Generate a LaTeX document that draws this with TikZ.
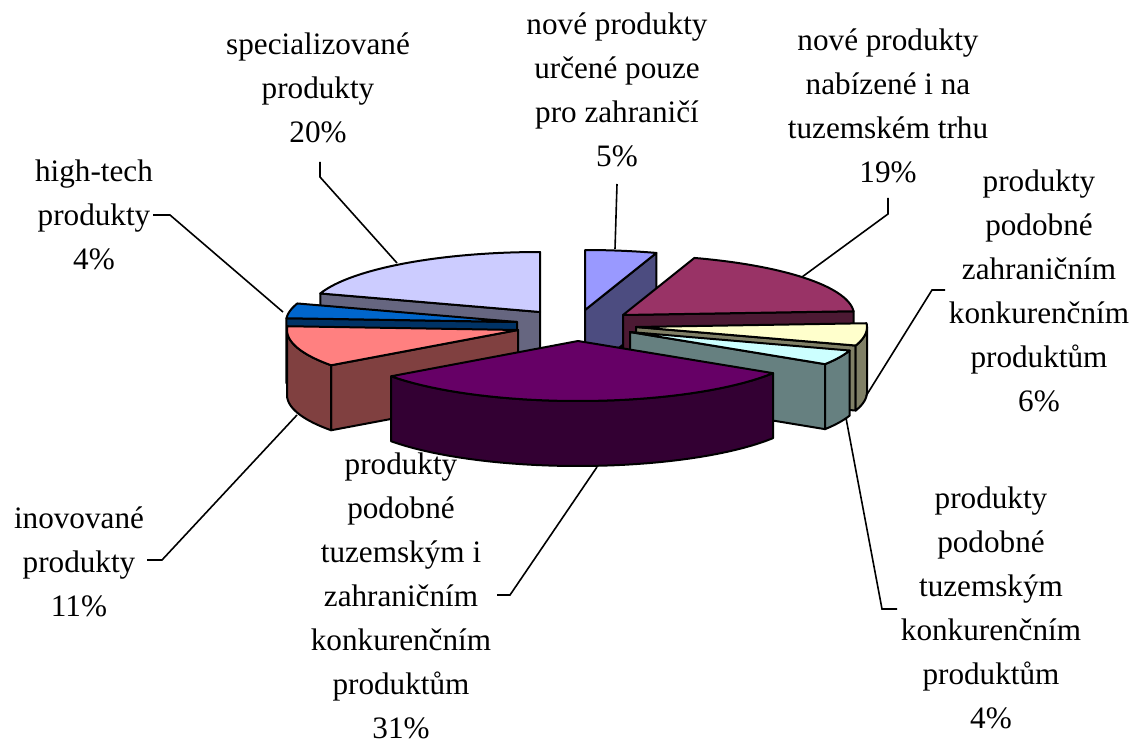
\documentclass[tikz,border=0pt]{standalone}
\usepackage{fontspec}
\setmainfont{Liberation Serif}
\definecolor{c1}{HTML}{9999FF}
\definecolor{c2}{HTML}{993366}
\definecolor{c3}{HTML}{FFFFCC}
\definecolor{c4}{HTML}{CCFFFF}
\definecolor{c5}{HTML}{660066}
\definecolor{c6}{HTML}{FF8080}
\definecolor{c7}{HTML}{0066CC}
\definecolor{c8}{HTML}{CCCCFF}
\newcommand{\pieA}{231}
\newcommand{\pieB}{60}
\newcommand{\pieH}{65}
% top of a slice: apex x, apex y, from, to, colour
\newcommand{\topface}[5]{\path[wall,fill=#5] (#1,#2) -- plot[domain=#3:#4] ({#1+\pieA*sin(\x)},{#2-\pieB*cos(\x)}) -- cycle;}
% flat wall along one radius
\newcommand{\radwall}[4]{\path[wall,fill=#4!50!black] (#1,#2) -- ({#1+\pieA*sin(#3)},{#2-\pieB*cos(#3)}) -- ({#1+\pieA*sin(#3)},{#2-\pieB*cos(#3)+\pieH}) -- (#1,{#2+\pieH}) -- cycle;}
% curved outer wall
\newcommand{\rimwall}[5]{\path[wall,fill=#5!50!black] plot[domain=#3:#4] ({#1+\pieA*sin(\x)},{#2-\pieB*cos(\x)}) -- plot[domain=#4:#3] ({#1+\pieA*sin(\x)},{#2-\pieB*cos(\x)+\pieH}) -- cycle;}
\tikzset{
    wall/.style={draw=black,line width=1pt,line join=round},
    lbl/.style={align=center,anchor=base,inner sep=0pt,font=\fontsize{15.6}{22}\selectfont},
    leader/.style={draw,line width=0.8pt},
}
\begin{document}
\begin{tikzpicture}[x=0.5pt,y=-0.5pt,samples=40]
\useasboundingbox (0,0) rectangle (1134,743);
% slices, back to front
\radwall{585}{310}{18}{c1}
\topface{585}{310}{0}{18}{c1}
\radwall{540}{312}{288}{c8}
\topface{540}{312}{288}{360}{c8}
\radwall{623}{315}{86.4}{c2}
\topface{623}{315}{18}{86.4}{c2}
\radwall{517}{322}{273.6}{c7}
\topface{517}{322}{273.6}{288}{c7}
\radwall{636}{327}{108}{c3}
\rimwall{636}{327}{90}{108}{c3}
\topface{636}{327}{86.4}{108}{c3}
\radwall{518}{330}{234}{c6}
\rimwall{518}{330}{234}{270}{c6}
\topface{518}{330}{234}{273.6}{c6}
\radwall{630}{332}{122.4}{c4}
\rimwall{630}{332}{108}{122.4}{c4}
\topface{630}{332}{108}{122.4}{c4}
\rimwall{578}{341}{122.4}{234}{c5}
\topface{578}{341}{122.4}{234}{c5}
% labels (placed at the baseline of the last line)
\node[lbl] (l1) at (617,167) {nové produkty\\určené pouze\\pro zahraničí\\5\%};
\node[lbl] (l2) at (888,183) {nové produkty\\nabízené i na\\tuzemském trhu\\19\%};
\node[lbl] (l3) at (1039,411) {produkty\\podobné\\zahraničním\\konkurenčním\\produktům\\6\%};
\node[lbl] (l4) at (991,728) {produkty\\podobné\\tuzemským\\konkurenčním\\produktům\\4\%};
\node[lbl] (l5) at (401,738) {produkty\\podobné\\tuzemským i\\zahraničním\\konkurenčním\\produktům\\31\%};
\node[lbl] (l6) at (79,616) {inovované\\produkty\\11\%};
\node[lbl] (l7) at (94,270) {high-tech\\produkty\\4\%};
\node[lbl] (l8) at (318,143) {specializované\\produkty\\20\%};
% leader lines
\coordinate (a1) at (617,184); \coordinate (b1) at (615,249);
\coordinate (a2) at (888,198); \coordinate (b2) at (802,277);
\coordinate (a3) at (945,290); \coordinate (b3) at (866,396);
\coordinate (a4) at (897,609); \coordinate (b4) at (846,418);
\coordinate (a5) at (497,595); \coordinate (b5) at (597,467);
\coordinate (a6) at (147,560); \coordinate (b6) at (297,415);
\coordinate (a7) at (153,215); \coordinate (b7) at (283,312);
\coordinate (a8) at (320,162); \coordinate (b8) at (397,263);
\draw[leader] (a1) -- (b1);
\draw[leader] (a2) -- ++(0,16) -- (b2);
\draw[leader] (a3) -- ++(-13,0) -- (b3);
\draw[leader] (a4) -- ++(-15,0) -- (b4);
\draw[leader] (a5) -- ++(13,0) -- (b5);
\draw[leader] (a6) -- ++(15,0) -- (b6);
\draw[leader] (a7) -- ++(17,0) -- (b7);
\draw[leader] (a8) -- ++(0,15) -- (b8);
\end{tikzpicture}
\end{document}
